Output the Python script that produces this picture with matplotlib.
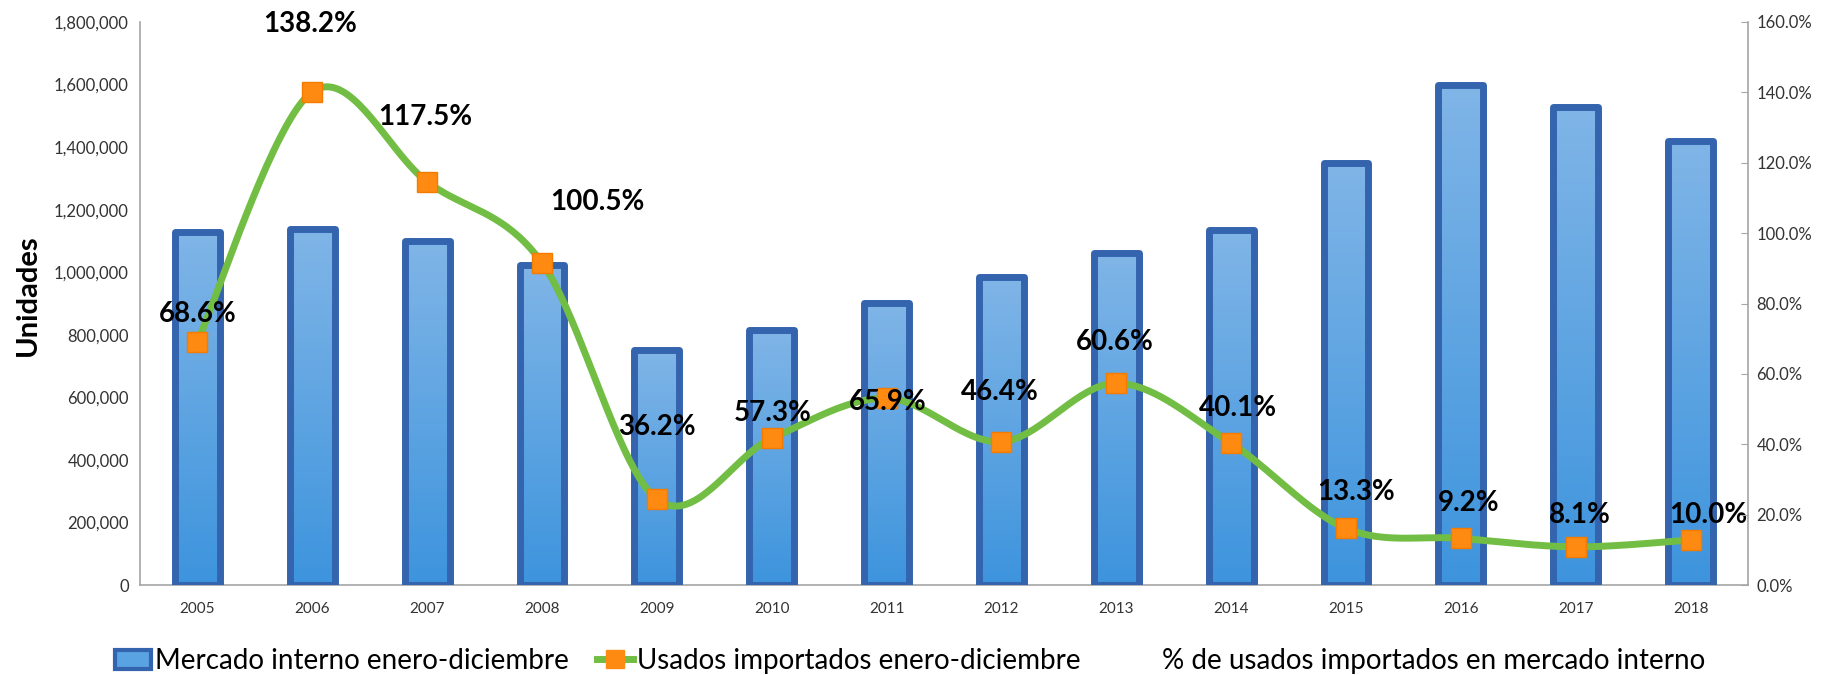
import numpy as np
import matplotlib
matplotlib.use("Agg")
import matplotlib.pyplot as plt
from matplotlib.colors import LinearSegmentedColormap
from matplotlib.lines import Line2D
from matplotlib.patches import Rectangle
from matplotlib.ticker import FuncFormatter, MultipleLocator

years = ["2005", "2006", "2007", "2008", "2009", "2010", "2011",
         "2012", "2013", "2014", "2015", "2016", "2017", "2018"]
mercado = [1129000, 1137000, 1099000, 1022000, 751000, 815000, 902000,
           985000, 1060000, 1134000, 1350000, 1598000, 1529000, 1420000]
usados = [778000, 1577000, 1289000, 1030000, 274000, 469000, 597000,
          458000, 645000, 453000, 181000, 149000, 122000, 144000]
pct = [68.6, 138.2, 117.5, 100.5, 36.2, 57.3, 65.9,
       46.4, 60.6, 40.1, 13.3, 9.2, 8.1, 10.0]

# label offsets from each marker, in pixels (dx, dy down)
label_off = [(0, -28), (-2, -68), (-2, -65), (55, -61), (0, -72), (1, -25), (1, 4),
             (-2, -50), (-1, -41), (7, -35), (10, -36), (8, -35), (4, -32), (18, -25)]

plt.rcParams['font.family'] = ['Lato', 'DejaVu Sans']

BAR_EDGE = '#3464AE'
GREEN = '#72BE44'
ORANGE = '#FF8A12'
GRAY = '#A6A6A6'
TXT = '#333333'


def smooth(xs, ys, n=40):
    # Excel-like smoothed line (bezier, tension 1/6)
    p = np.column_stack([xs, ys]).astype(float)
    out = []
    t = np.linspace(0, 1, n)[:, None]
    for i in range(len(p) - 1):
        p0 = p[i - 1] if i > 0 else p[i]
        p1, p2 = p[i], p[i + 1]
        p3 = p[i + 2] if i + 2 < len(p) else p[i + 1]
        c1 = p1 + (p2 - p0) / 6
        c2 = p2 - (p3 - p1) / 6
        seg = ((1 - t) ** 3) * p1 + 3 * ((1 - t) ** 2) * t * c1 + 3 * (1 - t) * t ** 2 * c2 + t ** 3 * p2
        out.append(seg if i == 0 else seg[1:])
    out = np.vstack(out)
    return out[:, 0], out[:, 1]


fig = plt.figure(figsize=(18.32, 6.75), dpi=100)
ax = fig.add_axes([140 / 1832, 1 - 585 / 675, 1608 / 1832, 563 / 675])
x = np.arange(len(years))

bars = ax.bar(x, mercado, width=0.39, facecolor='none', edgecolor=BAR_EDGE,
              linewidth=5, zorder=3, joinstyle='round')
grad = np.linspace(1, 0, 256).reshape(-1, 1)
cmap = LinearSegmentedColormap.from_list('blu', ['#3D94DD', '#80B5E7'])
for b in bars:
    x0, w, h = b.get_x(), b.get_width(), b.get_height()
    im = ax.imshow(grad, extent=[x0, x0 + w, 0, h], cmap=cmap, aspect='auto',
                   origin='upper', zorder=2, interpolation='bilinear')
    im.set_clip_path(b)

sx, sy = smooth(x, usados)
ax.plot(sx, sy, color=GREEN, lw=5, zorder=4, solid_capstyle='round')
ax.plot(x, usados, linestyle='none', marker='s', ms=15, mfc=ORANGE,
        mec='#F47B00', mew=1, zorder=5)

for i in range(len(years)):
    dx, dy = label_off[i]
    ax.annotate(f"{pct[i]:.1f}%", (x[i], usados[i]), xytext=(dx, -dy),
                textcoords='offset pixels', ha='center', va='center',
                fontsize=20, fontweight='bold', color='black', zorder=6)

ax.set_xlim(-0.5, len(years) - 0.5)
ax.set_ylim(0, 1800000)
ax.yaxis.set_major_locator(MultipleLocator(200000))
ax.yaxis.set_major_formatter(FuncFormatter(lambda v, p: f"{int(v):,}"))
ax.set_xticks(x, years)
ax.tick_params(axis='y', length=0, pad=8, labelsize=12, labelcolor=TXT)
ax.tick_params(axis='x', length=0, pad=12, labelsize=11, labelcolor=TXT)
for s in ['top', 'right']:
    ax.spines[s].set_visible(False)
for s in ['left', 'bottom']:
    ax.spines[s].set_color(GRAY)
    ax.spines[s].set_linewidth(1.2)
ax.set_ylabel('Unidades', fontsize=21, fontweight='bold', color='black')
ax.yaxis.set_label_coords(-0.0616, 0.515)

ax2 = ax.twinx()
ax2.set_ylim(0, 1.6)
ax2.yaxis.set_major_locator(MultipleLocator(0.2))
ax2.yaxis.set_major_formatter(FuncFormatter(lambda v, p: f"{v * 100:.1f}%"))
ax2.plot(x, np.array(pct) / 100, linestyle='none')
ax2.tick_params(axis='y', length=5, direction='in', color=GRAY, pad=6,
                labelsize=12, labelcolor=TXT)
for s in ['top', 'left', 'bottom']:
    ax2.spines[s].set_visible(False)
ax2.spines['right'].set_color(GRAY)
ax2.spines['right'].set_linewidth(1.2)

h1 = Rectangle((0, 0), 1, 1, facecolor='#5AA3E2', edgecolor=BAR_EDGE, lw=3)
h2 = Line2D([0], [0], color=GREEN, lw=5, marker='s', ms=13, mfc=ORANGE, mec=ORANGE)
h3 = Line2D([0], [0], linestyle='none')
fig.legend([h1, h2],
           ['Mercado interno enero-diciembre', 'Usados importados enero-diciembre'],
           loc='center left', bbox_to_anchor=(115 / 1832, 1 - 661 / 675), ncol=2,
           frameon=False, fontsize=20, handlelength=1.3, handletextpad=0.15,
           columnspacing=1.0, borderaxespad=0, borderpad=0)
fig.legend([h3], ['% de usados importados en mercado interno'],
           loc='center left', bbox_to_anchor=(1162 / 1832, 1 - 661 / 675),
           frameon=False, fontsize=20, handlelength=0, handletextpad=0,
           borderaxespad=0, borderpad=0)

fig.savefig('out.png', dpi=100)
